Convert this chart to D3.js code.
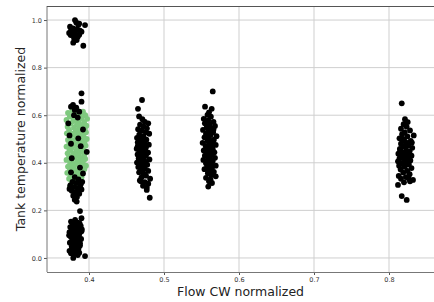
<!DOCTYPE html>
<html><head><meta charset="utf-8">
<script src="https://cdn.jsdelivr.net/npm/d3@7/dist/d3.min.js"></script>
<style>html,body{margin:0;padding:0;background:#fff;}svg{display:block;}</style>
</head><body><svg id="c" width="434" height="302"></svg>
<script>
const xTicks = [0.4, 0.5, 0.6, 0.7, 0.8];
const yTicks = [0.0, 0.2, 0.4, 0.6, 0.8, 1.0];
const xLabel = "Flow CW normalized";
const yLabel = "Tank temperature normalized";

const blackA_top = [[0.3813,1.000],[0.3747,0.972],[0.3857,0.979],[0.3947,0.979],[0.3790,0.965],[0.3840,0.960],[0.3769,0.944],[0.3756,0.937],[0.3800,0.950],[0.3880,0.955],[0.3900,0.951],[0.3825,0.940],[0.3760,0.955],[0.3850,0.930],[0.3836,0.916],[0.3924,0.892],[0.3800,0.925],[0.3870,0.985],[0.3830,0.990],[0.3735,0.946],[0.3870,0.938],[0.3790,0.905]];
const blackA_bottom = [[0.3880,0.197],[0.3900,0.167],[0.3790,0.000],[0.3947,0.008],[0.3760,0.153],[0.3810,0.150],[0.3850,0.148],[0.3780,0.140],[0.3830,0.138],[0.3890,0.135],[0.3750,0.130],[0.3800,0.127],[0.3860,0.125],[0.3770,0.118],[0.3840,0.115],[0.3900,0.112],[0.3740,0.108],[0.3815,0.105],[0.3870,0.100],[0.3790,0.096],[0.3850,0.092],[0.3760,0.088],[0.3830,0.084],[0.3895,0.080],[0.3780,0.076],[0.3810,0.072],[0.3860,0.068],[0.3745,0.064],[0.3800,0.060],[0.3840,0.056],[0.3880,0.052],[0.3770,0.048],[0.3820,0.044],[0.3860,0.040],[0.3790,0.036],[0.3740,0.030],[0.3830,0.027],[0.3870,0.022],[0.3800,0.018],[0.3850,0.012],[0.3760,0.020],[0.3815,0.160],[0.3875,0.145],[0.3905,0.120],[0.3735,0.095],[0.3880,0.062],[0.3790,0.110],[0.3850,0.078],[0.3770,0.030],[0.3830,0.100]];
const blackA_mid = [[0.3900,0.692],[0.3900,0.657],[0.3787,0.643],[0.3760,0.636],[0.3830,0.632],[0.3810,0.622],[0.3870,0.615],[0.3724,0.566],[0.3857,0.503],[0.3970,0.446],[0.3770,0.419],[0.3850,0.590],[0.3800,0.600],[0.3920,0.540],[0.3740,0.515],[0.3890,0.470],[0.3760,0.480],[0.3880,0.380],[0.3920,0.355],[0.3760,0.360],[0.3810,0.340],[0.3860,0.330],[0.3780,0.320],[0.3830,0.315],[0.3890,0.310],[0.3750,0.305],[0.3800,0.298],[0.3850,0.292],[0.3900,0.288],[0.3770,0.282],[0.3820,0.276],[0.3870,0.270],[0.3790,0.262],[0.3840,0.256],[0.3810,0.245],[0.3836,0.237],[0.3880,0.300],[0.3740,0.290],[0.3860,0.280],[0.3910,0.320]];
const greenA = [[0.3780,0.621],[0.3850,0.618],[0.3920,0.615],[0.3720,0.610],[0.3810,0.607],[0.3880,0.604],[0.3950,0.600],[0.3745,0.595],[0.3830,0.592],[0.3900,0.588],[0.3975,0.585],[0.3700,0.580],[0.3790,0.577],[0.3860,0.574],[0.3935,0.571],[0.3760,0.566],[0.3840,0.562],[0.3910,0.559],[0.3965,0.556],[0.3715,0.552],[0.3800,0.548],[0.3875,0.545],[0.3945,0.542],[0.3735,0.538],[0.3820,0.535],[0.3890,0.531],[0.3960,0.528],[0.3705,0.524],[0.3780,0.521],[0.3855,0.518],[0.3925,0.514],[0.3750,0.510],[0.3835,0.507],[0.3905,0.503],[0.3970,0.500],[0.3720,0.496],[0.3795,0.493],[0.3870,0.490],[0.3940,0.486],[0.3740,0.482],[0.3815,0.479],[0.3885,0.476],[0.3955,0.472],[0.3700,0.468],[0.3775,0.465],[0.3850,0.462],[0.3920,0.458],[0.3755,0.454],[0.3830,0.451],[0.3900,0.448],[0.3965,0.444],[0.3715,0.440],[0.3790,0.437],[0.3865,0.434],[0.3935,0.430],[0.3735,0.426],[0.3810,0.423],[0.3880,0.420],[0.3950,0.416],[0.3700,0.412],[0.3770,0.409],[0.3845,0.406],[0.3915,0.402],[0.3750,0.398],[0.3825,0.395],[0.3895,0.392],[0.3960,0.388],[0.3720,0.384],[0.3795,0.381],[0.3870,0.378],[0.3940,0.374],[0.3745,0.370],[0.3815,0.367],[0.3885,0.364],[0.3710,0.358],[0.3790,0.355],[0.3860,0.352],[0.3760,0.346],[0.3830,0.342],[0.3900,0.339],[0.3735,0.333],[0.3805,0.329],[0.3870,0.325],[0.3770,0.318],[0.3840,0.314],[0.3747,0.300],[0.3810,0.306],[0.3800,0.600],[0.3860,0.560],[0.3760,0.500],[0.3900,0.470],[0.3820,0.430],[0.3780,0.390],[0.3880,0.540],[0.3740,0.455],[0.3920,0.410],[0.3800,0.520]];
const blackB = [[0.4707,0.664],[0.4653,0.627],[0.4668,0.595],[0.4712,0.583],[0.4745,0.572],[0.4790,0.566],[0.4681,0.560],[0.4730,0.552],[0.4772,0.545],[0.4655,0.541],[0.4701,0.535],[0.4758,0.528],[0.4803,0.522],[0.4670,0.518],[0.4725,0.512],[0.4640,0.505],[0.4690,0.500],[0.4765,0.497],[0.4712,0.490],[0.4650,0.486],[0.4738,0.481],[0.4798,0.476],[0.4683,0.472],[0.4720,0.468],[0.4757,0.463],[0.4636,0.459],[0.4700,0.455],[0.4742,0.451],[0.4673,0.446],[0.4788,0.443],[0.4715,0.439],[0.4648,0.435],[0.4760,0.431],[0.4695,0.427],[0.4733,0.422],[0.4662,0.418],[0.4806,0.414],[0.4707,0.410],[0.4750,0.405],[0.4640,0.401],[0.4690,0.397],[0.4776,0.392],[0.4725,0.387],[0.4657,0.382],[0.4745,0.377],[0.4698,0.371],[0.4790,0.366],[0.4668,0.360],[0.4730,0.354],[0.4760,0.346],[0.4700,0.339],[0.4815,0.333],[0.4678,0.326],[0.4745,0.319],[0.4790,0.312],[0.4720,0.303],[0.4770,0.296],[0.4693,0.322],[0.4770,0.286],[0.4810,0.253],[0.4735,0.500],[0.4680,0.430],[0.4760,0.470],[0.4710,0.380],[0.4650,0.470]];
const blackC = [[0.5650,0.700],[0.5547,0.636],[0.5636,0.627],[0.5600,0.612],[0.5580,0.601],[0.5625,0.594],[0.5530,0.585],[0.5590,0.578],[0.5660,0.572],[0.5545,0.566],[0.5610,0.560],[0.5680,0.555],[0.5570,0.549],[0.5635,0.543],[0.5520,0.538],[0.5595,0.533],[0.5655,0.528],[0.5560,0.522],[0.5620,0.517],[0.5700,0.512],[0.5540,0.507],[0.5600,0.502],[0.5665,0.497],[0.5580,0.492],[0.5640,0.488],[0.5515,0.484],[0.5610,0.479],[0.5690,0.475],[0.5555,0.471],[0.5625,0.466],[0.5585,0.461],[0.5650,0.457],[0.5530,0.452],[0.5605,0.448],[0.5672,0.444],[0.5570,0.439],[0.5640,0.435],[0.5545,0.430],[0.5615,0.426],[0.5680,0.421],[0.5590,0.417],[0.5525,0.412],[0.5650,0.408],[0.5600,0.403],[0.5560,0.398],[0.5630,0.393],[0.5690,0.388],[0.5575,0.383],[0.5640,0.378],[0.5540,0.373],[0.5610,0.368],[0.5665,0.362],[0.5585,0.356],[0.5630,0.349],[0.5690,0.343],[0.5560,0.337],[0.5620,0.330],[0.5600,0.322],[0.5640,0.315],[0.5590,0.300],[0.5650,0.480],[0.5570,0.520],[0.5620,0.400],[0.5600,0.455],[0.5660,0.540]];
const blackD = [[0.8170,0.650],[0.8213,0.583],[0.8250,0.571],[0.8195,0.562],[0.8235,0.552],[0.8160,0.543],[0.8280,0.536],[0.8210,0.528],[0.8330,0.515],[0.8175,0.520],[0.8245,0.511],[0.8140,0.503],[0.8200,0.497],[0.8290,0.492],[0.8225,0.486],[0.8160,0.480],[0.8260,0.474],[0.8190,0.468],[0.8310,0.463],[0.8145,0.458],[0.8230,0.453],[0.8275,0.448],[0.8180,0.443],[0.8125,0.438],[0.8215,0.434],[0.8300,0.430],[0.8165,0.426],[0.8250,0.422],[0.8140,0.418],[0.8200,0.414],[0.8285,0.410],[0.8120,0.406],[0.8230,0.402],[0.8175,0.397],[0.8265,0.393],[0.8135,0.388],[0.8210,0.383],[0.8300,0.378],[0.8155,0.372],[0.8245,0.366],[0.8190,0.359],[0.8275,0.352],[0.8130,0.345],[0.8225,0.340],[0.8320,0.328],[0.8160,0.333],[0.8260,0.335],[0.8120,0.307],[0.8200,0.318],[0.8280,0.322],[0.8170,0.260],[0.8236,0.244],[0.8220,0.470],[0.8180,0.500],[0.8250,0.395],[0.8195,0.425],[0.8240,0.440],[0.8305,0.485],[0.8150,0.455]];

const L = 47, R = 434, T = 6, B = 272;
const svg = d3.select("#c");
const x = d3.scaleLinear().domain([0.344, 0.86]).range([L, R]);
const y = d3.scaleLinear().domain([-0.059, 1.059]).range([B, T]);

// grid
svg.append("g").selectAll("line").data(xTicks).join("line")
  .attr("x1", d => x(d)).attr("x2", d => x(d)).attr("y1", T).attr("y2", B)
  .attr("stroke", "#cfcfcf").attr("stroke-width", 1);
svg.append("g").selectAll("line").data(yTicks).join("line")
  .attr("x1", L).attr("x2", R).attr("y1", d => y(d)).attr("y2", d => y(d))
  .attr("stroke", "#cfcfcf").attr("stroke-width", 1);

// axes
const xa = svg.append("g").attr("transform", `translate(0,${B})`)
  .call(d3.axisBottom(x).tickValues(xTicks).tickFormat(d3.format(".1f")).tickSize(3).tickPadding(2));
const ya = svg.append("g").attr("transform", `translate(${L},0)`)
  .call(d3.axisLeft(y).tickValues(yTicks).tickFormat(d3.format(".1f")).tickSize(3).tickPadding(2));
[xa, ya].forEach(a => {
  a.select(".domain").remove();
  a.selectAll("line").attr("stroke", "#555");
  a.selectAll("text").attr("fill", "#333").style("font-family", "DejaVu Sans").style("font-size", "6.5px");
});

// spines
svg.append("line").attr("x1", L).attr("x2", L).attr("y1", T).attr("y2", B).attr("stroke", "#777");
svg.append("line").attr("x1", L).attr("x2", R).attr("y1", B + 0.5).attr("y2", B + 0.5).attr("stroke", "#777");
svg.append("line").attr("x1", L).attr("x2", R).attr("y1", T + 0.5).attr("y2", T + 0.5).attr("stroke", "#555");

// points
function dots(data, color) {
  svg.append("g").selectAll("circle").data(data).join("circle")
    .attr("cx", d => x(d[0])).attr("cy", d => y(d[1])).attr("r", 2.9).attr("fill", color);
}
dots(blackA_top, "#000");
dots(blackA_bottom, "#000");
dots(blackB, "#000");
dots(blackC, "#000");
dots(blackD, "#000");
dots(greenA, "#7fc97f");
dots(blackA_mid, "#000");

// labels
svg.append("text").attr("x", (L + R) / 2).attr("y", 296).attr("text-anchor", "middle")
  .style("font-family", "DejaVu Sans").style("font-size", "12.5px").attr("fill", "#222").text(xLabel);
svg.append("text").attr("transform", `translate(25,${(T + B) / 2}) rotate(-90)`).attr("text-anchor", "middle")
  .style("font-family", "DejaVu Sans").style("font-size", "12.5px").attr("fill", "#222").text(yLabel);
</script></body></html>
